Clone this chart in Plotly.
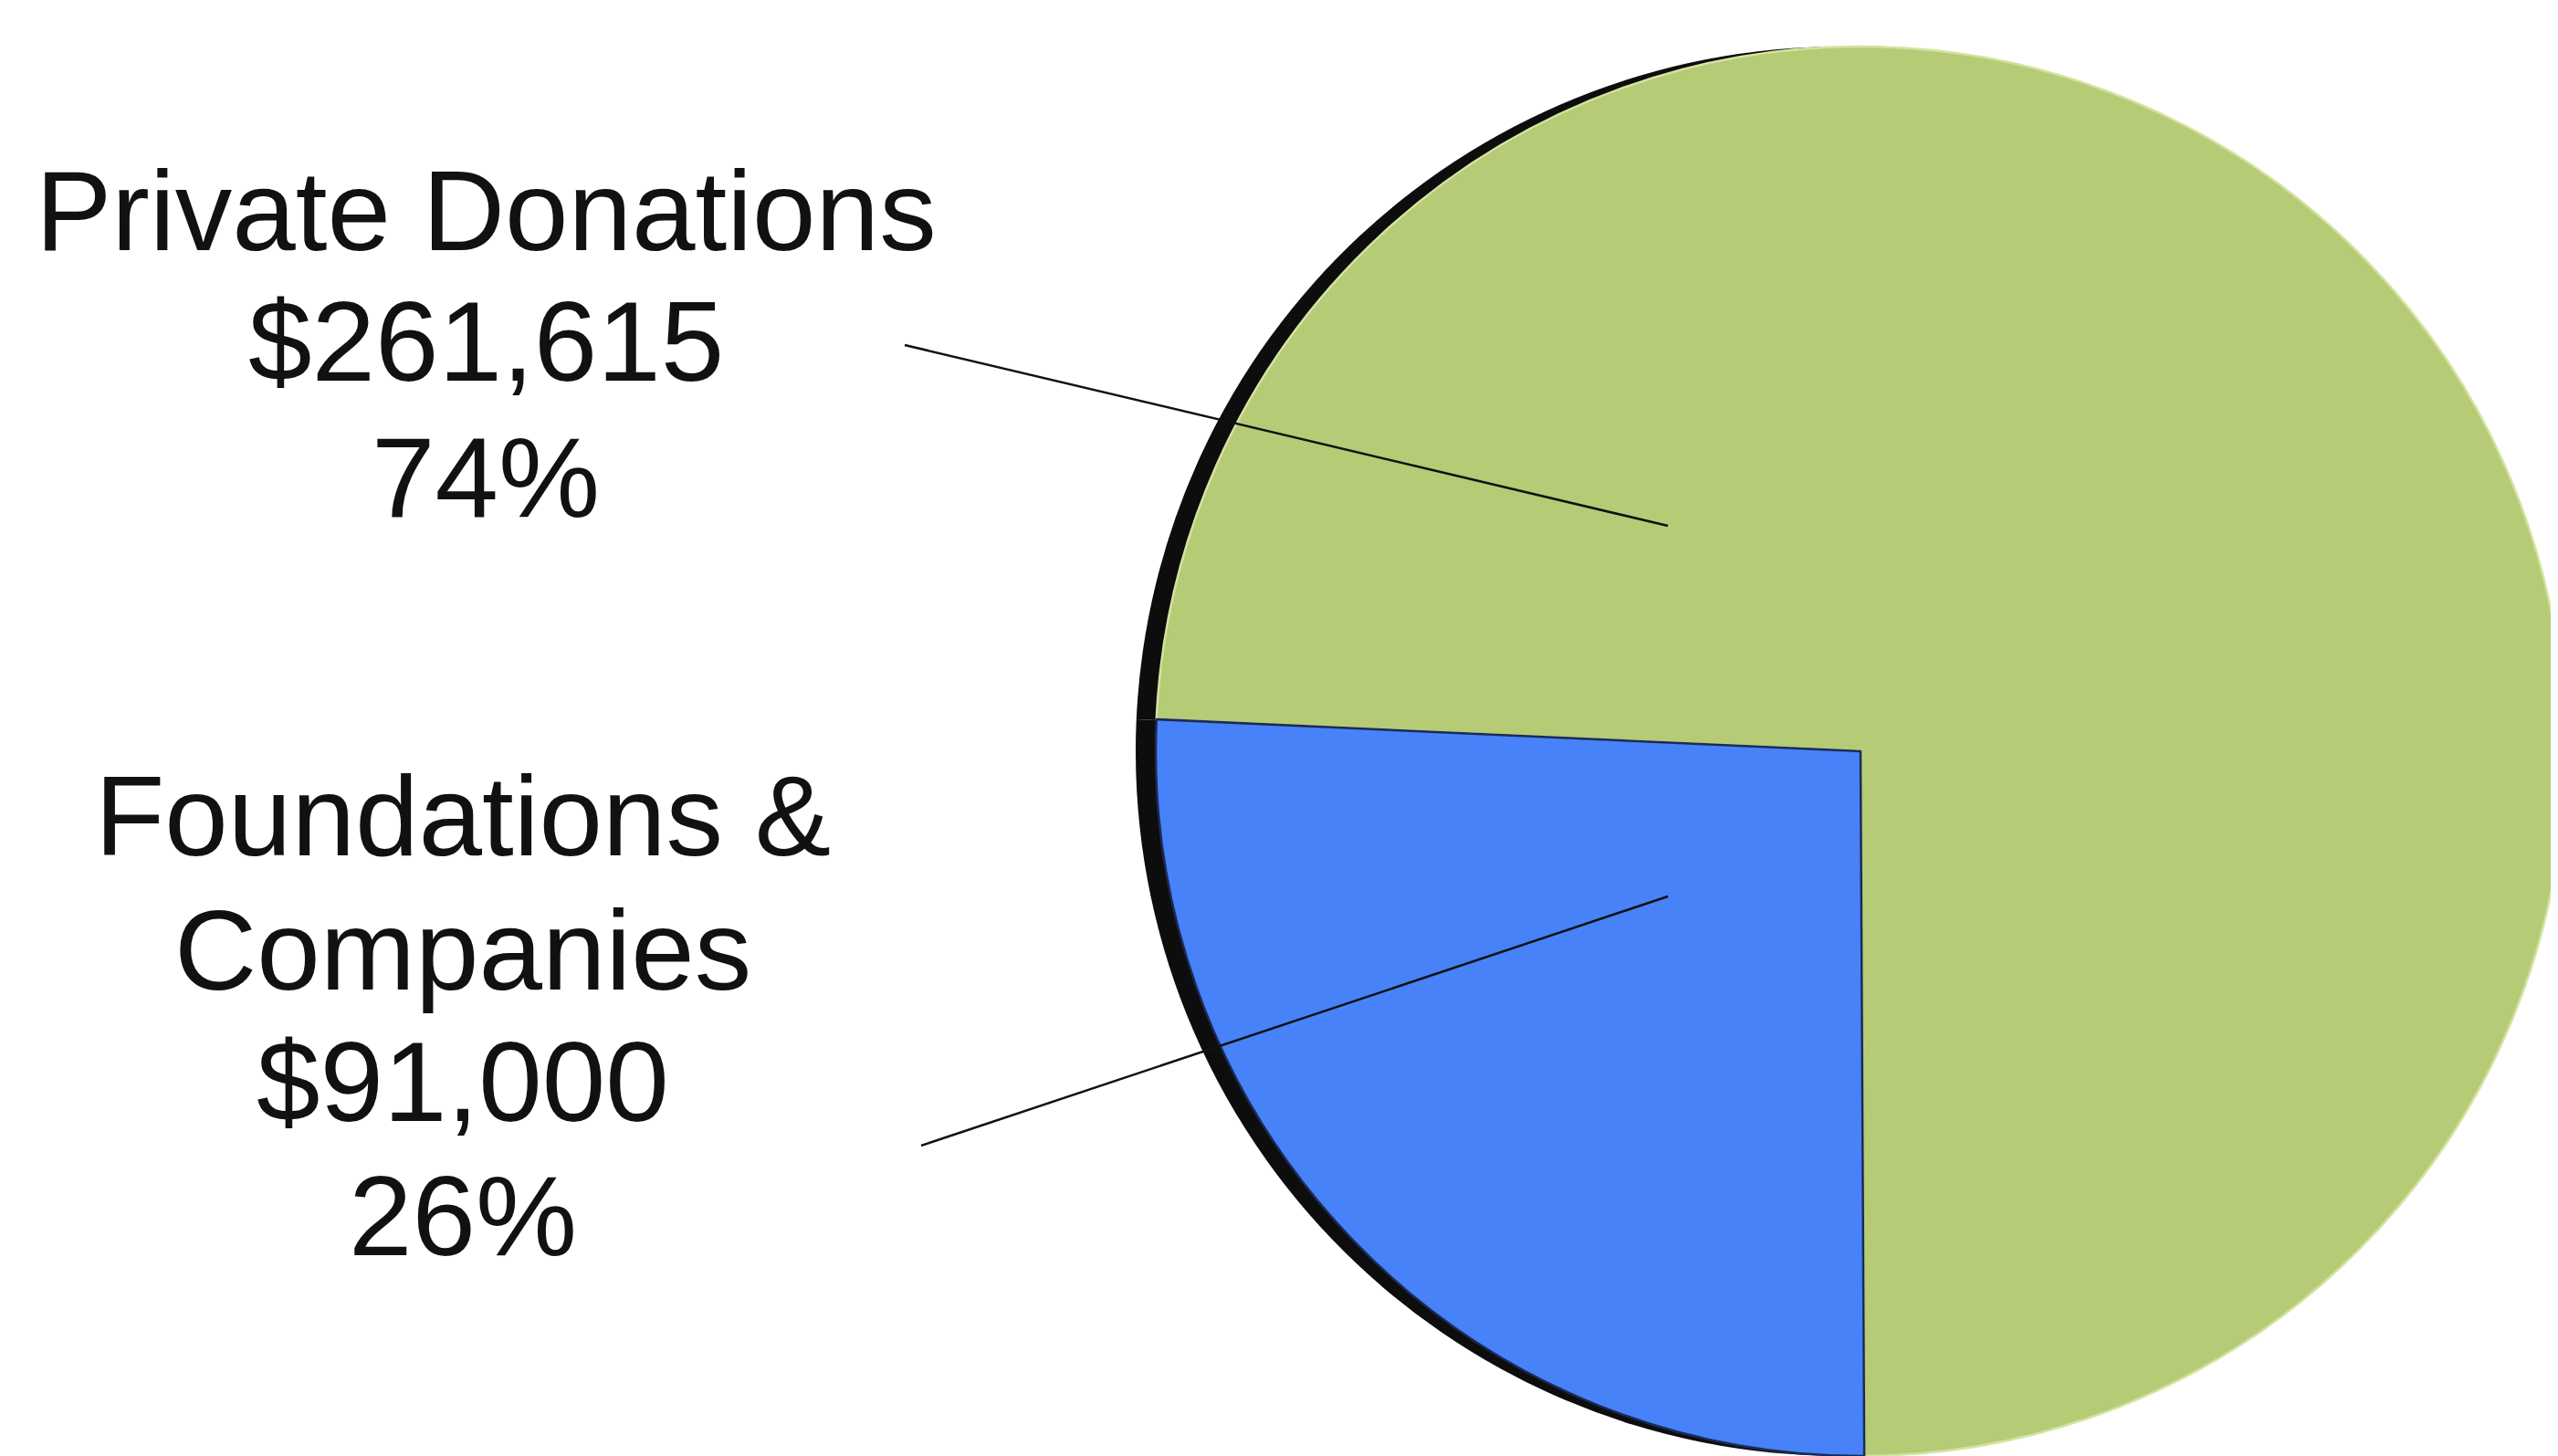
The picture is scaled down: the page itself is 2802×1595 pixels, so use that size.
import plotly.graph_objects as go

# ---- data ----
labels = ["Private Donations", "Foundations & Companies"]
label_lines = [["Private Donations"], ["Foundations &", "Companies"]]
values = [261615, 91000]
colors = ["#B5CB76", "#4782F8"]
edge_colors = ["#D4E3A0", "#1B2A55"]

total = sum(values)
percents = [round(v / total * 100) for v in values]

W, H = 2802, 1595

def px(x):
    return x / W

def py(y):
    return 1 - y / H

# pie geometry (pixels)
cx, cy, R = 2030, 815, 772
shadow_dx = 22
start_angle = 272.6

fig = go.Figure()

# dark rim / shadow behind the pie
fig.add_trace(go.Pie(
    labels=labels, values=values, sort=False, direction="clockwise", rotation=start_angle,
    marker=dict(colors=["#0d0d0d", "#0d0d0d"], line=dict(width=0)),
    textinfo="none", hoverinfo="skip", showlegend=False,
    domain=dict(x=[px(cx - R - shadow_dx), px(cx + R - shadow_dx)],
                y=[py(cy + R), py(cy - R)]),
))

fig.add_trace(go.Pie(
    labels=labels, values=values, sort=False, direction="clockwise", rotation=start_angle,
    marker=dict(colors=colors, line=dict(width=2.5, color=edge_colors)),
    textinfo="none", showlegend=False,
    domain=dict(x=[px(cx - R), px(cx + R)], y=[py(cy + R), py(cy - R)]),
))

# label text blocks
block_x = [524, 499]
block_line_y = [[222, 366, 514], [885, 1032, 1176, 1323]]
annotations = []
for i in range(len(labels)):
    lines = label_lines[i] + ["${:,}".format(values[i]), "{}%".format(percents[i])]
    for line, yy in zip(lines, block_line_y[i]):
        annotations.append(dict(
            x=px(block_x[i]), y=py(yy), xref="paper", yref="paper",
            text=line, showarrow=False, xanchor="center", yanchor="middle",
            font=dict(family="Liberation Sans, Arial, sans-serif", size=125, color="#111111"),
        ))

# leader lines
leaders = [((983, 370), (1819, 568)), ((1001, 1247), (1819, 974))]
shapes = []
for (x0, y0), (x1, y1) in leaders:
    shapes.append(dict(type="line", xref="paper", yref="paper",
                       x0=px(x0), y0=py(y0), x1=px(x1), y1=py(y1),
                       line=dict(color="#111111", width=2.5)))

fig.update_layout(
    width=W, height=H,
    margin=dict(l=0, r=0, t=0, b=0),
    paper_bgcolor="white", plot_bgcolor="white",
    annotations=annotations, shapes=shapes,
    showlegend=False,
)

fig.write_html("out.html")
